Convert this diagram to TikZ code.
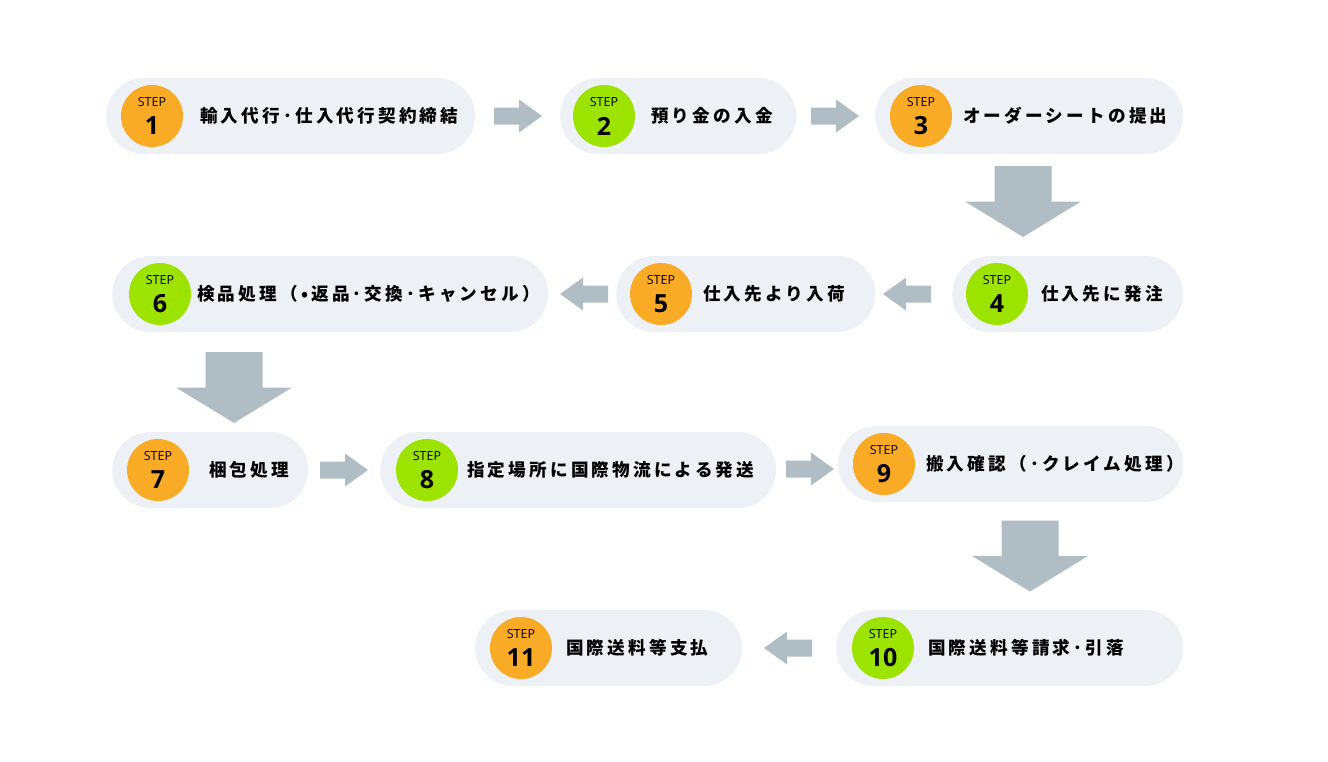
\documentclass[tikz,border=0pt]{standalone}
\usepackage{fontspec}
\newfontfamily\jpfont{Noto Sans CJK JP}[LetterSpace=18]
\newfontfamily\stepfont{Open Sans}
\usetikzlibrary{positioning}

\definecolor{pillgray}{HTML}{EDF0F4}
\definecolor{arrowgray}{HTML}{B1BDC4}
\definecolor{steporange}{HTML}{F9AB25}
\definecolor{stepgreen}{HTML}{9DE300}

\tikzset{
  pill/.style={fill=pillgray, rounded corners=38pt, minimum height=76pt, inner sep=0pt, anchor=west},
  badge/.style={circle, minimum size=62pt, inner sep=0pt},
  steptag/.style={inner sep=0pt, font=\stepfont\fontsize{12.5}{12.5}\selectfont},
  stepnum/.style={inner sep=0pt, font=\stepfont\bfseries\fontsize{25}{25}\selectfont},
  lbl/.style={inner sep=0pt, anchor=west, font=\jpfont\bfseries\fontsize{17.6}{20}\selectfont},
  rightarr/.pic={\fill[arrowgray] (-24,-8.5) -- (1,-8.5) -- (1,-16.5) -- (24,0) -- (1,16.5) -- (1,8.5) -- (-24,8.5) -- cycle;},
  downarr/.pic={\fill[arrowgray] (-28.5,-35.5) -- (28.5,-35.5) -- (28.5,0) -- (58,0) -- (0,35.5) -- (-58,0) -- (-28.5,0) -- cycle;}
}

\begin{document}
\begin{tikzpicture}[x=1pt, y=-1pt]
  \useasboundingbox (0,0) rectangle (1328,761);
  % STEP1-3
  \node [pill, minimum width=369pt] (s1) at (106,116) {};
  \node [badge, fill=steporange]    (c1) at (152,116) {};
  \node [steptag] at ([yshift=14pt]c1.center) {STEP};
  \node [stepnum] at ([yshift=-10pt]c1.center) {1};
  \node [lbl] (t1) at (200,116) {輸入代行･仕入代行契約締結};
  \pic at (518,116) {rightarr};
  \node [pill, minimum width=236pt] (s2) at (560,116) {};
  \node [badge, fill=stepgreen]     (c2) at (604,116) {};
  \node [steptag] at ([yshift=14pt]c2.center) {STEP};
  \node [stepnum] at ([yshift=-10pt]c2.center) {2};
  \node [lbl] (t2) at (651,116) {預り金の入金};
  \pic at (835,116) {rightarr};
  \node [pill, minimum width=308pt] (s3) at (875,116) {};
  \node [badge, fill=steporange]    (c3) at (921,116) {};
  \node [steptag] at ([yshift=14pt]c3.center) {STEP};
  \node [stepnum] at ([yshift=-10pt]c3.center) {3};
  \node [lbl] (t3) at (963,116) {オーダーシートの提出};
  \pic at (1023,201.5) {downarr};
  % STEP4-6
  \node [pill, minimum width=231pt] (s4) at (952,294) {};
  \node [badge, fill=stepgreen]     (c4) at (997,294) {};
  \node [steptag] at ([yshift=14pt]c4.center) {STEP};
  \node [stepnum] at ([yshift=-10pt]c4.center) {4};
  \node [lbl] (t4) at (1041,294) {仕入先に発注};
  \pic [rotate=180] at (907,294) {rightarr};
  \node [pill, minimum width=259pt] (s5) at (616,294) {};
  \node [badge, fill=steporange]    (c5) at (661,294) {};
  \node [steptag] at ([yshift=14pt]c5.center) {STEP};
  \node [stepnum] at ([yshift=-10pt]c5.center) {5};
  \node [lbl] (t5) at (703,294) {仕入先より入荷};
  \pic [rotate=180] at (584,294) {rightarr};
  \node [pill, minimum width=436pt] (s6) at (112,294) {};
  \node [badge, fill=stepgreen]     (c6) at (160,294) {};
  \node [steptag] at ([yshift=14pt]c6.center) {STEP};
  \node [stepnum] at ([yshift=-10pt]c6.center) {6};
  \node [lbl] (t6) at (197,294) {検品処理（•返品･交換･キャンセル）};
  \pic at (234,387.5) {downarr};
  % STEP7-9
  \node [pill, minimum width=196pt] (s7) at (112,470) {};
  \node [badge, fill=steporange]    (c7) at (158,470) {};
  \node [steptag] at ([yshift=14pt]c7.center) {STEP};
  \node [stepnum] at ([yshift=-10pt]c7.center) {7};
  \node [lbl] (t7) at (209,470) {梱包処理};
  \pic at (344,470) {rightarr};
  \node [pill, minimum width=396pt] (s8) at (380,470) {};
  \node [badge, fill=stepgreen]     (c8) at (427,470) {};
  \node [steptag] at ([yshift=14pt]c8.center) {STEP};
  \node [stepnum] at ([yshift=-10pt]c8.center) {8};
  \node [lbl] (t8) at (467,470) {指定場所に国際物流による発送};
  \pic at (810,469) {rightarr};
  \node [pill, minimum width=345pt] (s9) at (838,464) {};
  \node [badge, fill=steporange]    (c9) at (884,464) {};
  \node [steptag] at ([yshift=14pt]c9.center) {STEP};
  \node [stepnum] at ([yshift=-10pt]c9.center) {9};
  \node [lbl] (t9) at (926,464) {搬入確認（･クレイム処理）};
  \pic at (1030,556) {downarr};
  % STEP10,11
  \node [pill, minimum width=347pt] (s10) at (836,648) {};
  \node [badge, fill=stepgreen]     (c10) at (883,648) {};
  \node [steptag] at ([yshift=14pt]c10.center) {STEP};
  \node [stepnum] at ([yshift=-10pt]c10.center) {10};
  \node [lbl] (t10) at (928,648) {国際送料等請求･引落};
  \pic [rotate=180] at (788,648) {rightarr};
  \node [pill, minimum width=267pt] (s11) at (475,648) {};
  \node [badge, fill=steporange]    (c11) at (521,648) {};
  \node [steptag] at ([yshift=14pt]c11.center) {STEP};
  \node [stepnum] at ([yshift=-10pt]c11.center) {11};
  \node [lbl] (t11) at (566,648) {国際送料等支払};
\end{tikzpicture}
\end{document}
